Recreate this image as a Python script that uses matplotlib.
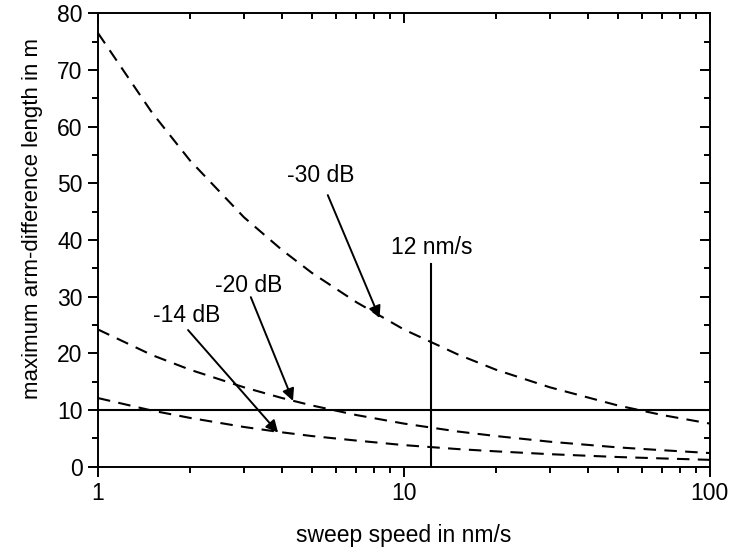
import numpy as np
import matplotlib
matplotlib.use("Agg")
import matplotlib.pyplot as plt
from matplotlib.ticker import LogLocator, NullFormatter, FixedLocator

plt.rcParams["font.family"] = ["Liberation Sans", "DejaVu Sans"]

# sweep speed in nm/s
speed = [1, 1.5, 2, 3, 4, 5, 7, 10, 15, 20, 30, 50, 70, 100]
# maximum arm-difference length in m
len_30db = [76.5, 62.5, 54.0, 44.0, 38.2, 34.2, 29.0, 24.2, 19.8, 17.1, 14.0, 10.8, 9.1, 7.6]
len_20db = [24.2, 19.7, 17.1, 14.0, 12.1, 10.8, 9.1, 7.6, 6.2, 5.4, 4.4, 3.4, 2.9, 2.4]
len_14db = [12.1, 9.9, 8.6, 7.0, 6.05, 5.4, 4.6, 3.8, 3.1, 2.7, 2.2, 1.7, 1.45, 1.2]

limit_len = 10
marker_speed = 12.3
marker_top = 35.7

FS = 16.5

fig = plt.figure(figsize=(7.31, 5.49), dpi=100)
ax = fig.add_axes([0.134, 0.150, 0.837, 0.826])

dash = (0, (6, 4))
for vals in (len_30db, len_20db, len_14db):
    ax.plot(speed, vals, color="black", lw=1.5, linestyle=dash)

ax.axhline(limit_len, color="black", lw=1.5)
ax.plot([marker_speed, marker_speed], [0, marker_top], color="black", lw=1.5)
ax.text(marker_speed, marker_top + 1.0, "12 nm/s", ha="center", va="bottom", fontsize=FS)

arrow = dict(arrowstyle="-|>", color="black", lw=1.4, mutation_scale=18, shrinkA=0, shrinkB=0)
ax.annotate("", xy=(8.33, 26.2), xytext=(5.64, 47.9), arrowprops=arrow)
ax.text(5.35, 51.3, "-30 dB", ha="center", va="center", fontsize=FS)
ax.annotate("", xy=(4.34, 11.6), xytext=(3.16, 29.9), arrowprops=arrow)
ax.text(3.11, 32.0, "-20 dB", ha="center", va="center", fontsize=FS)
ax.annotate("", xy=(3.88, 6.0), xytext=(1.97, 24.1), arrowprops=arrow)
ax.text(1.95, 26.6, "-14 dB", ha="center", va="center", fontsize=FS)

ax.set_xscale("log")
ax.set_xlim(1, 100)
ax.set_ylim(0, 80)
ax.xaxis.set_major_locator(FixedLocator([1, 10, 100]))
ax.set_xticklabels(["1", "10", "100"])
ax.xaxis.set_minor_locator(LogLocator(base=10, subs=np.arange(2, 10)))
ax.xaxis.set_minor_formatter(NullFormatter())
ax.set_yticks(np.arange(0, 81, 10))
ax.set_yticks(np.arange(5, 80, 10), minor=True)

for s in ax.spines.values():
    s.set_linewidth(1.4)

ax.tick_params(which="both", labelsize=FS, width=1.4)
ax.tick_params(axis="both", which="major", direction="out", length=7, pad=4)
ax.tick_params(axis="both", which="minor", direction="out", length=4.5)
ax.tick_params(top=True, right=True, which="both")

# ticks on top and right point into the axes
for t in ax.xaxis.get_major_ticks() + ax.xaxis.get_minor_ticks():
    t.tick2line.set_marker(3)
for t in ax.yaxis.get_major_ticks() + ax.yaxis.get_minor_ticks():
    t.tick2line.set_marker(0)

ax.set_xlabel("sweep speed in nm/s", fontsize=FS, labelpad=14)
ax.set_ylabel("maximum arm-difference length in m", fontsize=16, labelpad=10, y=0.548)

fig.savefig("out.png", dpi=100)
